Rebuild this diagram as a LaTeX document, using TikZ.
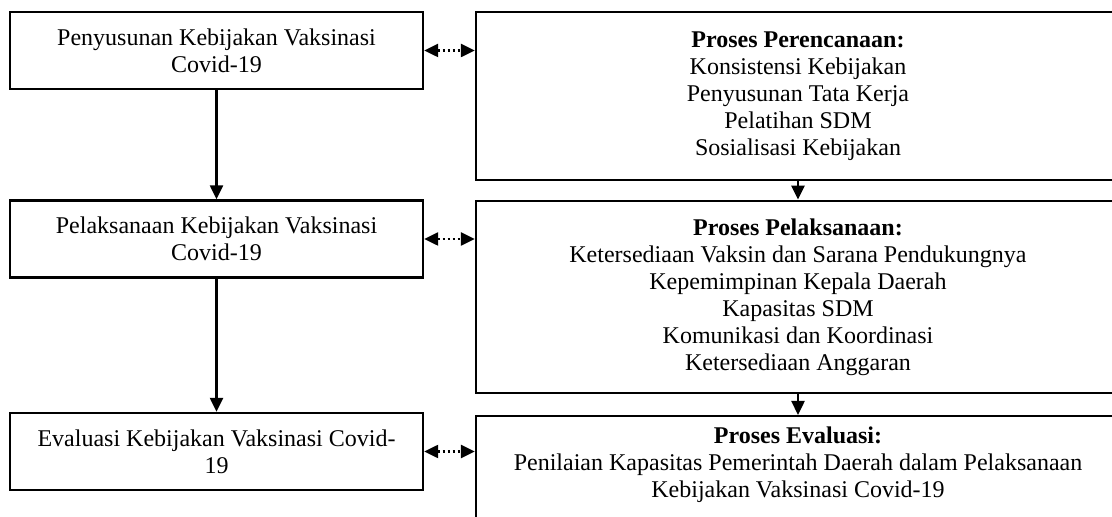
\documentclass[tikz,border=0pt]{standalone}
\usepackage{fontspec}
\setmainfont{Liberation Serif}
\usetikzlibrary{arrows.meta}

\begin{document}
\begin{tikzpicture}[x=0.5pt, y=-0.5pt,
  font=\fontsize{12}{13.5}\selectfont,
  box/.style={draw, line width=1.2pt, align=center, inner sep=0pt},
  lbox/.style={box, minimum width=206.5pt, minimum height=38.5pt},
  rbox/.style={box, minimum width=322pt},
  flow/.style={line width=1.2pt, -{Triangle[length=7pt,width=6.5pt]}},
  link/.style={line width=1.2pt, dash pattern=on 1.3pt off 1.2pt,
    {Triangle[length=7pt,width=6.5pt]}-{Triangle[length=7pt,width=6.5pt]}}
]
\useasboundingbox (0,0) rectangle (1112,517);

% stages on the left
\node[lbox] (ps) at (216.5,50.5) {Penyusunan Kebijakan Vaksinasi\\Covid-19};
\node[lbox] (pl) at (216.5,239) {Pelaksanaan Kebijakan Vaksinasi\\Covid-19};
\node[lbox] (ev) at (216.5,451.5) {Evaluasi Kebijakan Vaksinasi Covid-\\19};

% processes on the right
\node[rbox, minimum height=84pt] (pr) at (798,96)
  {\textbf{Proses Perencanaan:}\\Konsistensi Kebijakan\\Penyusunan Tata Kerja\\Pelatihan SDM\\Sosialisasi Kebijakan};
\node[rbox, minimum height=96.2pt] (pp) at (798,297)
  {\textbf{Proses Pelaksanaan:}\\Ketersediaan Vaksin dan Sarana Pendukungnya\\Kepemimpinan Kepala Daerah\\Kapasitas SDM\\Komunikasi dan Koordinasi\\Ketersediaan Anggaran};
\node[rbox, minimum height=80pt, anchor=north] (pe) at (798,415) {};
\node[align=center, inner sep=0pt] (pet) at (798,465)
  {\textbf{Proses Evaluasi:}\\Penilaian Kapasitas Pemerintah Daerah dalam Pelaksanaan\\Kebijakan Vaksinasi Covid-19};

% flow between stages
\draw[flow] (ps.south) -- (pl.north);
\draw[flow] (pl.south) -- (ev.north);
\draw[flow] (pr.south) -- (pp.north);
\draw[flow] (pp.south) -- (pe.north);

% links between stages and processes
\draw[link] (ps.east) -- (ps.east -| pr.west);
\draw[link] (pl.east) -- (pl.east -| pp.west);
\draw[link] (ev.east) -- (ev.east -| pe.west);
\end{tikzpicture}
\end{document}
